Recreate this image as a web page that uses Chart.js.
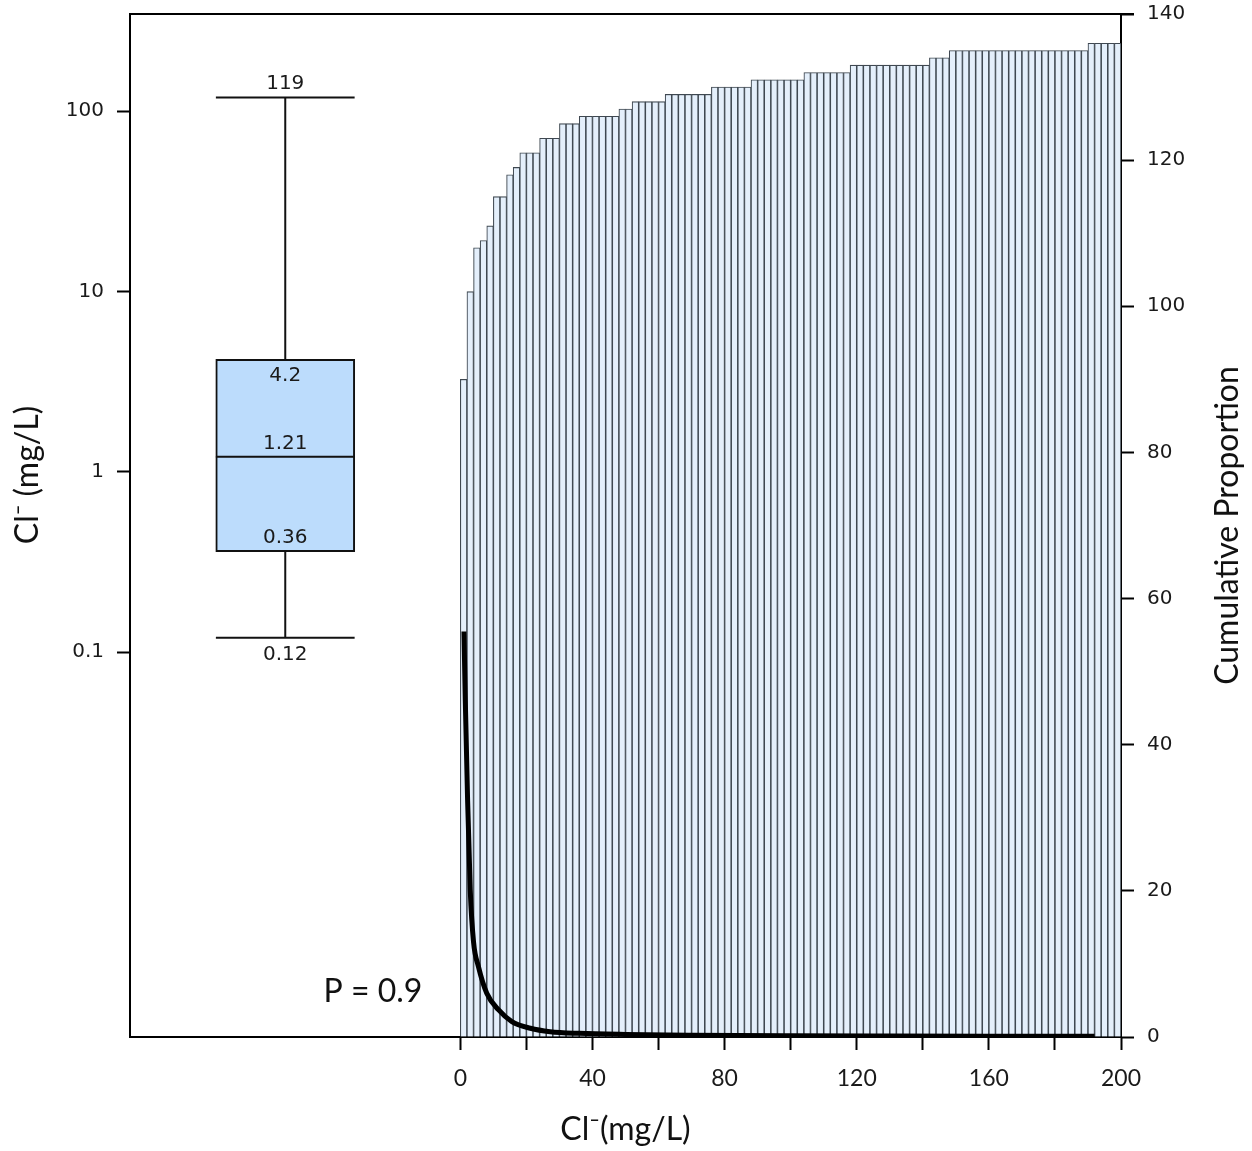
<!DOCTYPE html>
<html>
<head>
<meta charset="utf-8">
<script src="https://cdn.jsdelivr.net/npm/chart.js@4.4.1/dist/chart.umd.min.js"></script>
<style>
  html, body { margin: 0; padding: 0; background: #fff; }
  #wrap { width: 1252px; height: 1151px; }
</style>
</head>
<body>
<div id="wrap"><canvas id="c" width="1252" height="1151"></canvas></div>
<script>
// ---------------- DATA ----------------
const binWidth = 2; // mg/L per histogram bar, bars start at 0
const cumulativeCounts = [
  90, 102, 108, 109, 111, 115, 115, 118, 119, 121,
  121, 121, 123, 123, 123, 125, 125, 125, 126, 126,
  126, 126, 126, 126, 127, 127, 128, 128, 128, 128,
  128, 129, 129, 129, 129, 129, 129, 129, 130, 130,
  130, 130, 130, 130, 131, 131, 131, 131, 131, 131,
  131, 131, 132, 132, 132, 132, 132, 132, 132, 133,
  133, 133, 133, 133, 133, 133, 133, 133, 133, 133,
  133, 134, 134, 134, 135, 135, 135, 135, 135, 135,
  135, 135, 135, 135, 135, 135, 135, 135, 135, 135,
  135, 135, 135, 135, 135, 136, 136, 136, 136, 136
];

// fitted density curve (plotted against right axis)
const curveX = [1.1, 1.5, 2.2, 3.0, 4.0, 5.5, 8.0, 11.6, 15.6, 21.2, 27.2, 36, 50, 70, 100, 130, 160, 192];
const curveY = [55.5, 46.1, 32.4, 20.1, 13.0, 9.6, 6.0, 3.7, 2.1, 1.2, 0.73, 0.5, 0.35, 0.25, 0.18, 0.14, 0.11, 0.09];

// box plot statistics: min, Q1, median, Q3, max
const boxValues = [0.12, 0.36, 1.21, 4.2, 119];
const boxLabels = ['0.12', '0.36', '1.21', '4.2', '119'];

// axis ticks
const xTickValues = [0, 20, 40, 60, 80, 100, 120, 140, 160, 180, 200];
const xTickLabels = ['0', '', '40', '', '80', '', '120', '', '160', '', '200'];
const leftTickValues = [0.1, 1, 10, 100];
const leftTickLabels = ['0.1', '1', '10', '100'];
const rightTickValues = [0, 20, 40, 60, 80, 100, 120, 140];
const rightTickLabels = ['0', '20', '40', '60', '80', '100', '120', '140'];

const pValueText = 'P = 0.9';

// ---------------- LAYOUT CONSTANTS ----------------
const boxCenterX = -53;      // x position of box plot (in x-axis units)
const boxHalfWidth = 21;     // half width of box / caps (x units)
const boxLabelOffsets = [17, -14, -13, 17, -14]; // px offsets of labels from their lines

const histData = cumulativeCounts.map((v, i) => ({ x: (i + 0.5) * binWidth, y: v }));
const curveData = curveX.map((x, i) => ({ x: x, y: curveY[i] }));
const [bMin, bQ1, bMed, bQ3, bMax] = boxValues;

const lineStyle = {
  type: 'line', xAxisID: 'x', yAxisID: 'yL',
  borderColor: '#111', borderWidth: 2, pointRadius: 0, fill: false, order: 0
};

const overlay = {
  id: 'overlay',
  afterDraw(chart) {
    const { ctx, chartArea: a, scales } = chart;
    ctx.save();
    // top frame line
    ctx.strokeStyle = '#000';
    ctx.lineWidth = 2;
    ctx.beginPath();
    ctx.moveTo(a.left - 1, a.top);
    ctx.lineTo(a.right + 13, a.top);
    ctx.stroke();

    // box labels
    ctx.fillStyle = '#1a1a1a';
    ctx.font = '20px "DejaVu Sans"';
    ctx.textAlign = 'center';
    ctx.textBaseline = 'middle';
    const cx = scales.x.getPixelForValue(boxCenterX);
    boxValues.forEach((v, i) => {
      ctx.fillText(boxLabels[i], cx, scales.yL.getPixelForValue(v) + boxLabelOffsets[i]);
    });

    // P value
    ctx.font = '32px Lato';
    ctx.fillStyle = '#111';
    ctx.fillText(pValueText, 373, 992);

    // axis titles
    ctx.font = '32px Lato';
    ctx.fillText('Cl\u207B(mg/L)', (a.left + a.right) / 2, 1130);
    ctx.save();
    ctx.translate(28, 475);
    ctx.rotate(-Math.PI / 2);
    ctx.fillText('Cl\u207B (mg/L)', 0, 0);
    ctx.restore();
    ctx.save();
    ctx.translate(1228, (a.top + a.bottom) / 2);
    ctx.rotate(-Math.PI / 2);
    ctx.fillText('Cumulative Proportion', 0, 0);
    ctx.restore();
    ctx.restore();
  }
};

const gridOpts = { drawOnChartArea: false, drawTicks: true, tickLength: 13, tickColor: '#000', tickWidth: 2, offset: false };
const borderOpts = { display: true, color: '#000', width: 2 };
const noPad = s => { s.paddingTop = 0; s.paddingBottom = 0; s.paddingLeft = 0; s.paddingRight = 0; };

new Chart(document.getElementById('c'), {
  data: {
    datasets: [
      { ...lineStyle, label: 'curve', data: curveData, yAxisID: 'yR', borderColor: '#000', borderWidth: 5,
        cubicInterpolationMode: 'monotone', borderCapStyle: 'butt' },
      { ...lineStyle, label: 'lower whisker', data: [{ x: boxCenterX, y: bMin }, { x: boxCenterX, y: bQ1 }] },
      { ...lineStyle, label: 'upper whisker', data: [{ x: boxCenterX, y: bQ3 }, { x: boxCenterX, y: bMax }] },
      { ...lineStyle, label: 'min cap', data: [{ x: boxCenterX - boxHalfWidth, y: bMin }, { x: boxCenterX + boxHalfWidth, y: bMin }] },
      { ...lineStyle, label: 'max cap', data: [{ x: boxCenterX - boxHalfWidth, y: bMax }, { x: boxCenterX + boxHalfWidth, y: bMax }] },
      { ...lineStyle, label: 'median', data: [{ x: boxCenterX - boxHalfWidth, y: bMed }, { x: boxCenterX + boxHalfWidth, y: bMed }] },
      { type: 'bar', label: 'box', xAxisID: 'x', yAxisID: 'yL', data: [{ x: boxCenterX, y: [bQ1, bQ3] }],
        backgroundColor: '#bcdcfc', borderColor: '#111', borderWidth: 2, borderSkipped: false,
        grouped: false, barThickness: 139, order: 1 },
      { type: 'bar', label: 'cumulative', xAxisID: 'x', yAxisID: 'yR', data: histData,
        backgroundColor: '#e4effb', borderColor: '#3f4851', borderWidth: 1.1,
        grouped: false, barPercentage: 1, categoryPercentage: 1, order: 2 }
    ]
  },
  options: {
    responsive: false,
    animation: false,
    devicePixelRatio: 1,
    layout: { padding: { top: 14, left: 0, right: 0, bottom: 0 } },
    plugins: { legend: { display: false }, tooltip: { enabled: false } },
    scales: {
      x: {
        type: 'linear', position: 'bottom', min: -100, max: 200, z: 1, offset: false,
        afterBuildTicks: s => { s.ticks = xTickValues.map(v => ({ value: v })); },
        afterFit: s => { s.height = 114; noPad(s); },
        ticks: { autoSkip: false, maxRotation: 0, padding: 15, color: '#1a1a1a',
          font: { family: 'Lato', size: 23 }, callback: (v, i) => xTickLabels[i] },
        grid: gridOpts, border: borderOpts
      },
      yL: {
        type: 'logarithmic', position: 'left', min: 0.000733, max: 345.1, z: 1,
        afterBuildTicks: s => { s.ticks = leftTickValues.map(v => ({ value: v })); },
        afterFit: s => { s.width = 130; noPad(s); },
        ticks: { autoSkip: false, padding: 13, color: '#1a1a1a',
          font: { family: 'DejaVu Sans', size: 20 }, callback: (v, i) => leftTickLabels[i] },
        grid: gridOpts, border: borderOpts
      },
      yR: {
        type: 'linear', position: 'right', min: 0, max: 140, z: 1,
        afterBuildTicks: s => { s.ticks = rightTickValues.map(v => ({ value: v })); },
        afterFit: s => { s.width = 131; noPad(s); },
        ticks: { autoSkip: false, padding: 13, color: '#1a1a1a',
          font: { family: 'DejaVu Sans', size: 20 }, callback: (v, i) => rightTickLabels[i] },
        grid: gridOpts, border: borderOpts
      }
    }
  },
  plugins: [overlay]
});
</script>
</body>
</html>
